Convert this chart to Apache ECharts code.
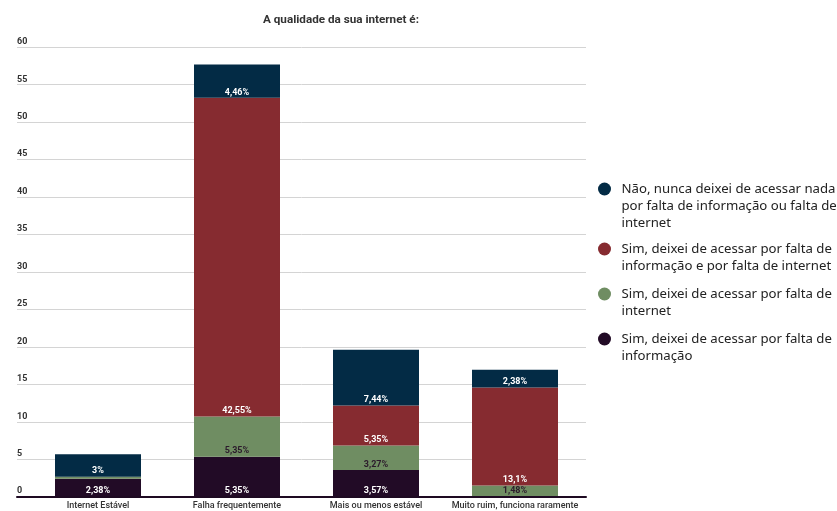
<!DOCTYPE html>
<html>
<head>
<meta charset="utf-8">
<script src="https://cdn.jsdelivr.net/npm/echarts@6/dist/echarts.min.js"></script>
<style>
  html, body { margin: 0; padding: 0; background: #fff; }
  #chart { width: 837px; height: 511px; }
</style>
</head>
<body>
<div id="chart"></div>
<script>
// Survey: internet quality vs. having missed access (percent of respondents)
const categories = ['Internet Estável', 'Falha frequentemente', 'Mais ou menos estável', 'Muito ruim, funciona raramente'];
const faltaInformacao = [2.38, 5.35, 3.57, 0];
const faltaInternet = [0.3, 5.35, 3.27, 1.48];
const faltaAmbos = [0, 42.55, 5.35, 13.1];
const nuncaDeixou = [3, 4.46, 7.44, 2.38];

const seriesNames = [
  'Sim, deixei de acessar por falta de informação',
  'Sim, deixei de acessar por falta de internet',
  'Sim, deixei de acessar por falta de informação e por falta de internet',
  'Não, nunca deixei de acessar nada por falta de informação ou falta de internet'
];
// wrapped legend text, keyed by series name
const legendLines = {
  [seriesNames[3]]: ['Não, nunca deixei de acessar nada', 'por falta de informação ou falta de', 'internet'],
  [seriesNames[2]]: ['Sim, deixei de acessar por falta de', 'informação e por falta de internet'],
  [seriesNames[1]]: ['Sim, deixei de acessar por falta de', 'internet'],
  [seriesNames[0]]: ['Sim, deixei de acessar por falta de', 'informação']
};
const colors = ['#220b26', '#6f8d62', '#862b30', '#032b45'];
const labelColors = ['#ffffff', '#2b1a2b', '#ffffff', '#ffffff'];

const FONT = 'Roboto';
const LEG_FONT = 'Noto Sans';
const LINE_H = 17;

function fmt(v) {
  return String(v).replace('.', ',') + '%';
}

const valueSets = [faltaInformacao, faltaInternet, faltaAmbos, nuncaDeixou];
const series = valueSets.map((vals, i) => ({
  name: seriesNames[i],
  type: 'bar',
  stack: 'total',
  xAxisIndex: 1,
  yAxisIndex: 1,
  barWidth: 86,
  data: vals,
  itemStyle: { color: colors[i] },
  label: {
    show: true,
    position: 'insideBottom',
    distance: 1,
    color: labelColors[i],
    fontFamily: FONT,
    fontWeight: 'bold',
    fontSize: 9,
    formatter: p => (p.value >= 1 ? fmt(p.value) : '')
  },
  emphasis: { disabled: true }
}));

// One legend block per series. The legend text is centred on its dot, so
// blank lines are put in front to bring the first text line level with the dot.
const legendOrder = [3, 2, 1, 0];
const dotCenters = [189, 249, 294, 339];
const legends = legendOrder.map((si, k) => {
  const name = seriesNames[si];
  const lines = legendLines[name];
  const lead = lines.length - 1;
  return {
    show: true,
    left: 598,
    top: dotCenters[k] - lead * LINE_H - LINE_H / 2,
    padding: 0,
    orient: 'vertical',
    icon: 'circle',
    itemWidth: 24,
    itemHeight: 13,
    selectedMode: false,
    data: [name],
    formatter: n => '\n'.repeat(lead) + lines.join('\n'),
    textStyle: {
      fontFamily: LEG_FONT,
      fontSize: 13.2,
      color: '#222',
      lineHeight: LINE_H
    }
  };
});

const chart = echarts.init(document.getElementById('chart'), null, { renderer: 'canvas' });
chart.setOption({
  animation: false,
  backgroundColor: '#fff',
  title: {
    text: 'A qualidade da sua internet é:',
    left: 258,
    top: 9,
    textStyle: { fontFamily: FONT, fontWeight: 'bold', fontSize: 11.7, color: '#333' }
  },
  legend: legends,
  grid: [
    { left: 17, right: 251, top: 47.3, bottom: 14.3 },
    { left: 28.5, right: 252.5, top: 47.3, bottom: 14.3 }
  ],
  xAxis: [
    {
      gridIndex: 0, type: 'category', data: categories,
      axisLine: { show: true, lineStyle: { color: '#1e0a22', width: 2 } },
      axisTick: { show: false }, axisLabel: { show: false }, z: 5
    },
    {
      gridIndex: 1, type: 'category', data: categories,
      axisLine: { show: false }, axisTick: { show: false },
      axisLabel: { interval: 0, margin: 5, fontFamily: FONT, fontSize: 9, fontWeight: 500, color: '#333' }
    }
  ],
  yAxis: [
    {
      gridIndex: 0, type: 'value', min: 0, max: 60, interval: 5,
      axisLine: { show: false }, axisTick: { show: false },
      splitLine: { lineStyle: { color: '#d4d4d4', width: 1 } },
      axisLabel: {
        inside: true, margin: 0, align: 'left', verticalAlign: 'bottom',
        padding: [0, 0, 1, 0],
        fontFamily: FONT, fontWeight: 'bold', fontSize: 9, color: '#333'
      }
    },
    {
      gridIndex: 1, type: 'value', min: 0, max: 60, interval: 5,
      show: false, splitLine: { show: false }
    }
  ],
  series: series
});
</script>
</body>
</html>
